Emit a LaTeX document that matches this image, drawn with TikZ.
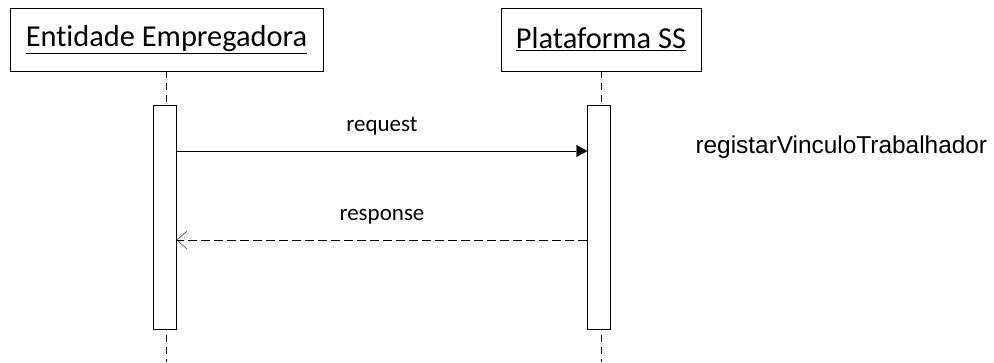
\documentclass[tikz,border=0pt]{standalone}
\usepackage{fontspec}
\setmainfont[Ligatures=NoCommon]{Carlito}
\newfontfamily\arialfont{Liberation Sans}
\usetikzlibrary{arrows.meta}
\begin{document}
\begin{tikzpicture}[
  x=1pt, y=-1pt,
  actor/.style={draw, thin, minimum width=313pt, minimum height=63pt, font=\fontsize{30.4}{32}\selectfont},
  actbar/.style={draw, thin, fill=white, minimum width=23pt, minimum height=224pt},
  lifeline/.style={thin, dashed, dash pattern=on 7pt off 5pt},
  msglabel/.style={font=\fontsize{23}{25}\selectfont},
]
\useasboundingbox (0,0) rectangle (994,362);

% Actors
\node[actor] (ent) at (166.5,39.5) {\underline{Entidade Empregadora}};
\node[actor, minimum width=200pt] (plat) at (601,39.5) {\underline{Plataforma SS}};

% Lifelines
\foreach \n/\x in {ent/166.5, plat/601} {
  \draw[lifeline] (\n.south) -- (\x,362);
}

% Activation bars
\node[actbar] (entbar) at (165,217) {};
\node[actbar] (platbar) at (599,217) {};

% Messages
\coordinate (reqA) at (entbar.east |- 0,151);
\coordinate (reqB) at (platbar.west |- 0,151);
\draw[thin, -{Triangle[length=11pt, width=12pt]}] (reqA) -- (reqB)
  node[msglabel, midway, above=12pt] (req) {request};

\coordinate (resA) at (platbar.west |- 0,240);
\coordinate (resB) at (entbar.east |- 0,240);
\draw[thin, dashed, dash pattern=on 9pt off 4pt, -{Straight Barb[length=10pt, width=18pt]}] (resA) -- (resB)
  node[msglabel, midway, above=12pt] (res) {response};

% Operation name
\node[font=\arialfont\fontsize{24.4}{26}\selectfont, anchor=west] (op) at (692,147) {registarVinculoTrabalhador};

\end{tikzpicture}
\end{document}
